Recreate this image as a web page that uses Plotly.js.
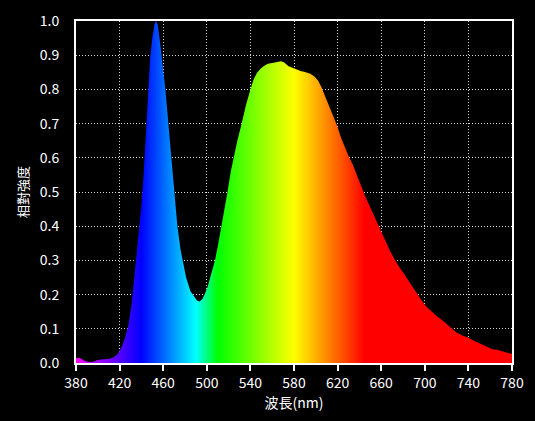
<!DOCTYPE html>
<html>
<head>
<meta charset="utf-8">
<script src="https://cdn.plot.ly/plotly-3.0.1.min.js"></script>
<style>html,body{margin:0;padding:0;background:#000;}#chart{width:535px;height:421px;}</style>
</head>
<body>
<div id="chart"></div>
<script>
// Wavelength (nm) and relative intensity
const wavelength = [380,384,388,392,396,400,405,410,414,417,420,423,425,428,431,434,437,440,442,444,446,448,450,452,453.5,455,457,459,462,465,468,470,473,476,478,481,485,488,491,493.5,496,498,501,504,507.5,510,513.5,516,519,522,524.5,528,532,536,540,543,546,549,552,556,560,564,568,571,575,578,582,586,590,595,599,602,605,608,611,614,617,620,623,626,630,634,637,640,645,650,655,660,664,668,672,676,681,686,691,696,701,706,711,716,720,725,729,735,740,745,750,756,762,767,772,776,780];
const intensity = [0.015,0.014,0.006,0.003,0.004,0.009,0.011,0.012,0.016,0.022,0.035,0.055,0.074,0.11,0.17,0.26,0.37,0.46,0.55,0.66,0.78,0.89,0.95,0.99,1.0,0.99,0.94,0.89,0.80,0.69,0.58,0.50,0.40,0.33,0.30,0.25,0.21,0.195,0.183,0.18,0.187,0.20,0.225,0.26,0.30,0.34,0.40,0.45,0.50,0.56,0.60,0.65,0.70,0.755,0.80,0.83,0.848,0.86,0.868,0.875,0.877,0.879,0.882,0.879,0.868,0.864,0.858,0.854,0.851,0.846,0.837,0.826,0.808,0.785,0.76,0.74,0.715,0.69,0.66,0.635,0.605,0.58,0.555,0.53,0.49,0.455,0.42,0.382,0.355,0.328,0.305,0.283,0.26,0.235,0.21,0.188,0.166,0.15,0.137,0.125,0.113,0.10,0.089,0.08,0.074,0.065,0.057,0.048,0.04,0.038,0.034,0.03,0.026];
const xTicks = [380,420,460,500,540,580,620,660,700,740,780];
const yTicks = [0.0,0.1,0.2,0.3,0.4,0.5,0.6,0.7,0.8,0.9,1.0];
const yTickText = yTicks.map(v => v.toFixed(1));
const xTitle = '波長(nm)';
const yTitle = '相對強度';
// spectral colour stops (wavelength, colour)
const colourStops = [[380,'#ff00ff'],[440,'#0000ff'],[490,'#00ffff'],[510,'#00ff00'],[580,'#ffff00'],[645,'#ff0000'],[780,'#ff0000']];

const lo = 380, hi = 780;
const colorscale = colourStops.map(s => [(s[0]-lo)/(hi-lo), s[1]]);

const trace = {
  x: wavelength, y: intensity, type: 'scatter', mode: 'lines',
  line: {width: 0, color: 'rgba(0,0,0,0)'},
  fill: 'tozeroy',
  fillgradient: {type: 'horizontal', colorscale: colorscale, start: lo, stop: hi},
  hoverinfo: 'skip'
};

const font = {family: '"Noto Sans CJK TC", "Open Sans", sans-serif', color: '#ffffff', size: 14};
const layout = {
  width: 535, height: 421,
  paper_bgcolor: '#000', plot_bgcolor: '#000',
  margin: {l: 76, r: 23, t: 21, b: 58},
  showlegend: false,
  font: font,
  xaxis: {
    range: [lo, hi], tickvals: xTicks, ticktext: xTicks.map(String),
    showline: true, linecolor: '#ffffff', linewidth: 2, mirror: true,
    ticks: 'outside', ticklen: 6, tickwidth: 2, tickcolor: '#ffffff',
    showgrid: true, gridcolor: 'rgba(255,255,255,0.85)', gridwidth: 1, griddash: '1px,2px',
    zeroline: false, tickfont: {size: 14, color: '#fff'},
    title: {text: xTitle, font: {size: 14, color: '#fff'}, standoff: 5}
  },
  yaxis: {
    range: [0, 1.0], tickvals: yTicks, ticktext: yTickText,
    showline: true, linecolor: '#ffffff', linewidth: 2, mirror: true,
    ticks: '', ticklabelstandoff: 12,
    showgrid: true, gridcolor: 'rgba(255,255,255,0.85)', gridwidth: 1, griddash: '1px,2px',
    zeroline: false, tickfont: {size: 14, color: '#fff'},
    title: {text: yTitle, font: {size: 13, color: '#fff'}, standoff: 8}
  }
};

Plotly.newPlot('chart', [trace], layout, {displayModeBar: false, staticPlot: true});
</script>
</body>
</html>
